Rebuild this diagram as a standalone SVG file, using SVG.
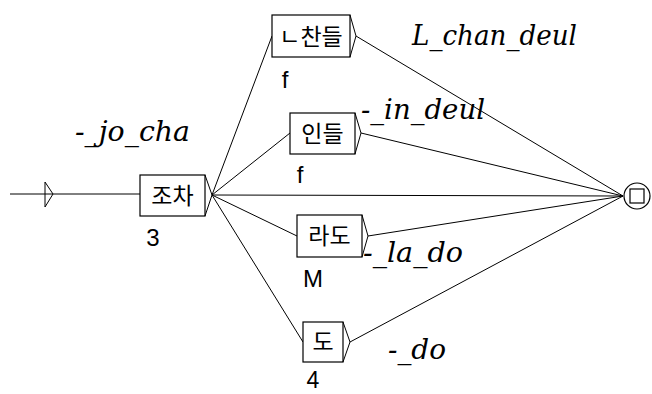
<svg xmlns="http://www.w3.org/2000/svg" width="652" height="394" viewBox="0 0 652 394">
<style>
.box{fill:#fff;stroke:#000;stroke-width:1.2}
.ln{fill:none;stroke:#000;stroke-width:1}
.out{font-family:'DejaVu Serif','Liberation Serif',serif;font-style:italic;font-size:28px;fill:#000}
</style>
<rect width="652" height="394" fill="#fff"/>
<g id="connectors" class="ln">
<line x1="10" y1="194" x2="140" y2="194"/>
<line x1="212" y1="195" x2="272" y2="36"/>
<line x1="212" y1="195" x2="290" y2="133"/>
<line x1="212" y1="195" x2="297" y2="236"/>
<line x1="212" y1="195" x2="303" y2="342"/>
<line x1="212" y1="195" x2="623" y2="196"/>
<line x1="356" y1="36" x2="623" y2="196"/>
<line x1="361" y1="133" x2="623" y2="196"/>
<line x1="368" y1="236" x2="623" y2="196"/>
<line x1="350" y1="342" x2="623" y2="196"/>
</g>
<g id="start">
<path class="ln" d="M45,182 L53,194 L45,207 Z" fill="#fff"/>
</g>
<g font-family="Noto Sans CJK KR, Noto Sans, sans-serif" font-size="23" fill="#000" text-anchor="middle">
<g id="n-jocha">
<rect class="box" x="140" y="175" width="65" height="41"/>
<path class="ln" d="M205,175 L212,195 L205,216"/>
<text x="172.5" y="204">조차</text>
<text x="153" y="246" font-family="Liberation Sans, Arial, sans-serif" font-size="24">3</text>
</g>
<g id="n-lchandeul">
<rect class="box" x="272" y="15" width="78" height="42"/>
<path class="ln" d="M350,15 L356,36 L350,57"/>
<text x="311" y="45">ㄴ찬들</text>
<text x="285" y="88" font-family="Liberation Sans, Arial, sans-serif" font-size="24">f</text>
</g>
<g id="n-indeul">
<rect class="box" x="290" y="113" width="65" height="41"/>
<path class="ln" d="M355,113 L361,133 L355,154"/>
<text x="322.5" y="142">인들</text>
<text x="300" y="183" font-family="Liberation Sans, Arial, sans-serif" font-size="24">f</text>
</g>
<g id="n-lado">
<rect class="box" x="297" y="215" width="65" height="42"/>
<path class="ln" d="M362,215 L368,236 L362,257"/>
<text x="329.5" y="244">라도</text>
<text x="313" y="287" font-family="Liberation Sans, Arial, sans-serif" font-size="24">M</text>
</g>
<g id="n-do">
<rect class="box" x="303" y="322" width="40" height="40"/>
<path class="ln" d="M343,322 L350,342 L343,362"/>
<text x="323" y="350">도</text>
<text x="313" y="388" font-family="Liberation Sans, Arial, sans-serif" font-size="23">4</text>
</g>
</g>
<g id="final">
<circle class="box" cx="637" cy="196" r="13"/>
<rect class="box" x="630" y="189" width="14" height="14"/>
</g>
<g id="outputs">
<text class="out" x="75" y="141" textLength="115" lengthAdjust="spacingAndGlyphs">-_jo_cha</text>
<text class="out" x="412" y="45" textLength="165" lengthAdjust="spacingAndGlyphs">L_chan_deul</text>
<text class="out" x="361" y="119" textLength="124" lengthAdjust="spacingAndGlyphs">-_in_deul</text>
<text class="out" x="363" y="262" textLength="100" lengthAdjust="spacingAndGlyphs">-_la_do</text>
<text class="out" x="388" y="359" textLength="58" lengthAdjust="spacingAndGlyphs">-_do</text>
</g>
</svg>
